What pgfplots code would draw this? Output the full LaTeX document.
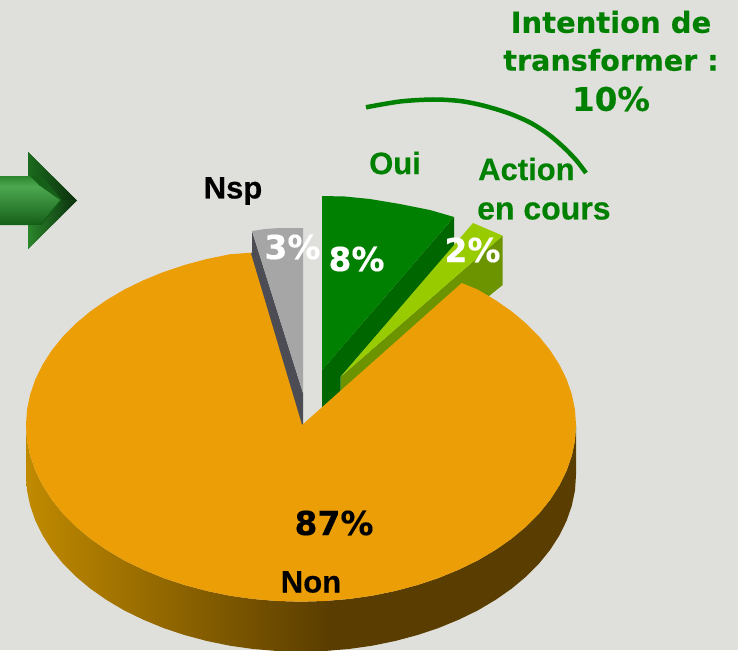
\documentclass[border=0pt]{standalone}
\usepackage{pgfplots}
\pgfplotsset{compat=1.18}
\usepackage{fontspec}
\setmainfont{Liberation Sans}[BoldFeatures={FakeBold=0.4}]
\newfontfamily\dv{DejaVu Sans}[BoldFeatures={FakeBold=0.3}]
\definecolor{bgc}{HTML}{DFE0DB}
\definecolor{orangeT}{HTML}{EB9E05}
\definecolor{grayT}{HTML}{A6A6A6}
\definecolor{grayS}{HTML}{4C4C55}
\definecolor{greenT}{HTML}{008000}
\definecolor{greenS}{HTML}{006600}
\definecolor{limeT}{HTML}{99CC00}
\definecolor{limeS}{HTML}{6B9400}
\definecolor{sideL}{HTML}{C08A00}
\definecolor{sideM}{HTML}{9A6C00}
\definecolor{sideD}{HTML}{5A3D00}
\definecolor{arrM}{HTML}{2B862C}
\definecolor{arrL}{HTML}{4CA850}
\definecolor{arrD}{HTML}{155F18}
\definecolor{arrK}{HTML}{0A2E0C}
\begin{document}
\begin{tikzpicture}
\begin{axis}[
  scale only axis, width=738pt, height=650pt,
  xmin=0, xmax=738, ymin=0, ymax=650, y dir=reverse,
  hide axis, clip=true,
  every axis plot/.append style={draw=none, mark=none}
]
% background
\addplot[fill=bgc] coordinates {(0,0)(738,0)(738,650)(0,650)} --cycle;
% arrow
\addplot[fill=arrD] coordinates {(28,152)(77,200.5)(28,249)} --cycle;
\addplot[left color=arrD!70!arrM, right color=arrK] coordinates {(28,152)(77,200.5)(62,200)(42,176)(28,176)} --cycle;
\addplot[left color=arrM, right color=arrK] coordinates {(28,249)(77,200.5)(62,200)(42,225)(28,225)} --cycle;
\addplot[top color=arrM, bottom color=arrL] coordinates {(0,176)(30,176)(40,186.3)(0,186.3)} --cycle;
\addplot[top color=arrL, middle color=arrM, bottom color=arrD] coordinates {(0,186)(40,186)(60,200)(42,222)(30,225)(0,225)} --cycle;
% Nsp
\addplot[fill=grayS] coordinates {(252,231)(303,393)(303,425)(290,420)(247,262)(252,252)} --cycle;
\addplot[fill=grayT] coordinates {(252,231)(265,229)(280,228)(303,228)(303,393)} --cycle;
% Action en cours
\addplot[fill=limeS] coordinates {(502.7,235.7)(502.7,285)(489,296)(461.7,290)(340.7,398)(340.7,376.7)} --cycle;
% Oui
\addplot[fill=greenS] coordinates {(454,217)(454,246)(340.7,376.7)(340.7,398)(322,415)(322,370)} --cycle;
\addplot[fill=greenT] coordinates {(322,196)(345,196.5)(370,199)(400,204)(430,210)(454,217)(322,370)} --cycle;
\addplot[fill=limeT] coordinates {(473,223)(502.7,235.7)(340.7,376.7)} --cycle;
% side of Non, shaded part
\addplot[left color=sideL, middle color=sideM, right color=sideD] coordinates {
(26,425)(27,440.4)(30.2,455.7)(35.4,470.7)(42.6,485.4)(51.8,499.7)(62.8,513.4)(75.7,526.4)(90.3,538.6)(106.5,549.9)(124.2,560.4)(143.3,569.7)(163.5,578)(184.8,585.1)(206.9,591)(229.8,595.7)(253.2,599)(277,601)(301,601.7)(325,601)(330,600.6)
(330,650.6)(325,651)(301,651.7)(277,651)(253.2,649)(229.8,645.7)(206.9,641)(184.8,635.1)(163.5,628)(143.3,619.7)(124.2,610.4)(106.5,599.9)(90.3,588.6)(75.7,576.4)(62.8,563.4)(51.8,549.7)(42.6,535.4)(35.4,520.7)(30.2,505.7)(27,490.4)(26,475)
} --cycle;
% side of Non, solid part
\addplot[fill=sideD] coordinates {
(329.5,600.6)(348.8,599)(372.2,595.7)(395.1,591)(417.2,585.1)(438.5,578)(458.7,569.7)(477.8,560.4)(495.5,549.9)(511.7,538.6)(526.3,526.4)(539.2,513.4)(550.2,499.7)(559.4,485.4)(566.6,470.7)(571.8,455.7)(575,440.4)(576,425)
(576,475)(575,490.4)(571.8,505.7)(566.6,520.7)(559.4,535.4)(550.2,549.7)(539.2,563.4)(526.3,576.4)(511.7,588.6)(495.5,599.9)(477.8,610.4)(458.7,619.7)(438.5,628)(417.2,635.1)(395.1,641)(372.2,645.7)(348.8,649)(329.5,650.6)
} --cycle;
% top of Non
\addplot[fill=orangeT] coordinates {
(302,425)(461.7,283)(477.8,289.6)(495.5,300.1)(511.7,311.4)(526.3,323.6)(539.2,336.6)(550.2,350.3)(559.4,364.6)(566.6,379.3)(571.8,394.3)(575,409.6)(576,425)
(575,440.4)(571.8,455.7)(566.6,470.7)(559.4,485.4)(550.2,499.7)(539.2,513.4)(526.3,526.4)(511.7,538.6)(495.5,549.9)(477.8,560.4)(458.7,569.7)(438.5,578)(417.2,585.1)(395.1,591)(372.2,595.7)(348.8,599)(325,601)(301,601.7)(277,601)(253.2,599)(229.8,595.7)(206.9,591)(184.8,585.1)(163.5,578)(143.3,569.7)(124.2,560.4)(106.5,549.9)(90.3,538.6)(75.7,526.4)(62.8,513.4)(51.8,499.7)(42.6,485.4)(35.4,470.7)(30.2,455.7)(27,440.4)(26,425)
(27,409.6)(30.2,394.3)(35.4,379.3)(42.6,364.6)(51.8,350.3)(62.8,336.6)(75.7,323.6)(90.3,311.4)(106.5,300.1)(124.2,289.6)(143.3,280.3)(163.5,272)(184.8,264.9)(206.9,259)(229.8,254.3)(250.7,252.7)
} --cycle;
% arc
\addplot[draw=greenT, line width=4.5pt, smooth, no marks] coordinates {(366,107.3)(400,101.5)(433,99.5)(460,101)(483,105.5)(508,113)(530,122.5)(548,134)(563,146.7)(576,160)(586,173)};
% text
\node[text=greenT, font=\dv\bfseries\fontsize{29}{36}\selectfont] at (axis cs:611,22) {Intention de};
\node[text=greenT, font=\dv\bfseries\fontsize{28.6}{36}\selectfont] at (axis cs:611,60) {transformer :};
\node[text=greenT, font=\dv\bfseries\fontsize{32.5}{36}\selectfont] at (axis cs:611,99) {10\%};
\node[text=greenT, font=\bfseries\fontsize{31}{36}\selectfont] at (axis cs:395,163) {Oui};
\node[text=greenT, font=\bfseries\fontsize{31}{36}\selectfont, anchor=west, inner sep=0pt] at (axis cs:478,169) {Action};
\node[text=greenT, font=\bfseries\fontsize{32}{36}\selectfont, anchor=west, inner sep=0pt] at (axis cs:477,211) {en cours};
\node[text=black, font=\bfseries\fontsize{31}{36}\selectfont] at (axis cs:233,191) {Nsp};
\node[text=white, font=\dv\bfseries\fontsize{33}{36}\selectfont] at (axis cs:292.5,247) {3\%};
\node[text=white, font=\dv\bfseries\fontsize{33}{36}\selectfont] at (axis cs:356.5,259) {8\%};
\node[text=white, font=\dv\bfseries\fontsize{33}{36}\selectfont] at (axis cs:472.5,250) {2\%};
\node[text=black, font=\dv\bfseries\fontsize{33}{36}\selectfont] at (axis cs:334,523) {87\%};
\node[text=black, font=\bfseries\fontsize{31}{36}\selectfont] at (axis cs:311,582) {Non};
\end{axis}
\end{tikzpicture}
\end{document}
